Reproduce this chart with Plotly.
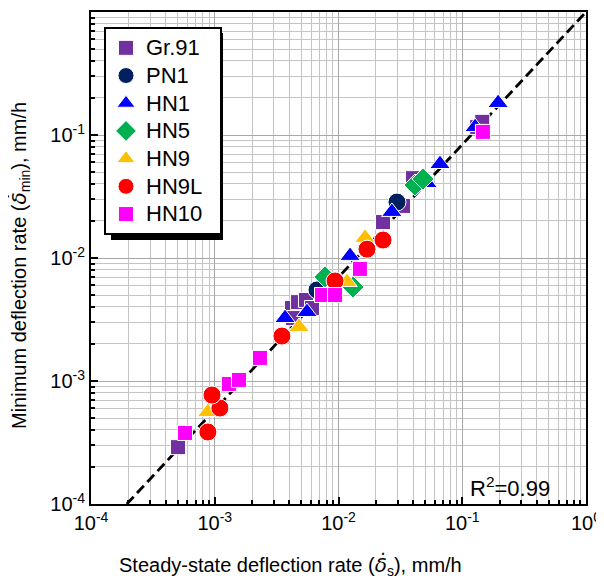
import numpy as np
import plotly.graph_objects as go

# ---- data (steady-state rate x, minimum rate y), mm/h ----
gr91_x = [5.05e-4, 4.21e-3, 4.71e-3, 5.46e-3, 6.11e-3, 4.28e-3, 2.29e-2, 3.32e-2, 4.00e-2, 0.132, 0.145]
gr91_y = [2.90e-4, 3.92e-3, 4.38e-3, 4.56e-3, 3.92e-3, 3.25e-3, 1.96e-2, 2.65e-2, 4.46e-2, 0.116, 0.128]

pn1_x = [6.70e-3, 2.97e-2]
pn1_y = [5.50e-3, 2.85e-2]

hn1_x = [3.70e-3, 5.56e-3, 1.24e-2, 2.70e-2, 5.19e-2, 6.61e-2, 0.127, 0.195]
hn1_y = [3.25e-3, 3.64e-3, 1.04e-2, 2.37e-2, 4.07e-2, 5.81e-2, 0.116, 0.182]

hn5_x = [7.78e-3, 1.31e-2, 4.15e-2, 4.82e-2]
hn5_y = [7.02e-3, 5.81e-3, 3.92e-2, 4.39e-2]

hn9_x = [8.8e-4, 4.80e-3, 1.17e-2, 1.64e-2]
hn9_y = [5.6e-4, 2.75e-3, 6.38e-3, 1.46e-2]

hn9l_x = [8.8e-4, 1.10e-3, 9.5e-4, 3.49e-3, 9.38e-3, 1.70e-2, 2.29e-2]
hn9l_y = [3.85e-4, 6.03e-4, 7.69e-4, 2.32e-3, 6.50e-3, 1.18e-2, 1.40e-2]

hn10_x = [5.75e-4, 1.30e-3, 1.57e-3, 2.32e-3, 7.36e-3, 9.38e-3, 1.49e-2, 0.147]
hn10_y = [3.78e-4, 9.46e-4, 1.02e-3, 1.54e-3, 5.00e-3, 5.00e-3, 8.15e-3, 0.106]

# power-law fit  y = A * x^N
FIT_A = 1.0
FIT_N = 1.078
R2_TEXT = "R<sup>2</sup>=0.99"

decades = [-4, -3, -2, -1, 0]
tick_labels = ["10<sup>-4</sup>", "10<sup>-3</sup>", "10<sup>-2</sup>", "10<sup>-1</sup>", "10<sup>0</sup>"]

series = [
    ("Gr.91", gr91_x, gr91_y, "square", "#7030A0", 15),
    ("PN1", pn1_x, pn1_y, "circle", "#002060", 18),
    ("HN1", hn1_x, hn1_y, "triangle-up", "#0000FF", 18),
    ("HN5", hn5_x, hn5_y, "diamond", "#00B050", 17),
    ("HN9", hn9_x, hn9_y, "triangle-up", "#FFC000", 18),
    ("HN9L", hn9l_x, hn9l_y, "circle", "#FF0000", 18),
    ("HN10", hn10_x, hn10_y, "square", "#FF00FF", 15),
]

FONT = "Arial, Liberation Sans, sans-serif"
DELTA = "<span style='font-family:DejaVu Sans'><i>δ̇</i></span>"
OFF = 8  # page body margin
W, H = 604 - OFF, 584 - OFF
L, R, T, B = 83, 18, 4, 80
PW, PH = W - L - R, H - T - B


def px(page_x):
    return (page_x - OFF - L) / PW


def py(page_y):
    return (T + PH - (page_y - OFF)) / PH


fig = go.Figure()

# fit line across the axis range
y_lo, y_hi = 10.0 ** decades[0], 10.0 ** decades[-1]
x_fit = np.array([(y_lo / FIT_A) ** (1 / FIT_N), (y_hi / FIT_A) ** (1 / FIT_N)])
y_fit = FIT_A * x_fit ** FIT_N
fig.add_trace(go.Scatter(x=x_fit, y=y_fit, mode="lines", showlegend=False,
                         line=dict(color="black", width=2.8, dash="10px,5px"), hoverinfo="skip"))

for name, xs, ys, sym, col, sz in series:
    fig.add_trace(go.Scatter(x=xs, y=ys, mode="markers",
                             name=f"<span style='font-size:22px'>{name}&nbsp;&nbsp;</span>",
                             marker=dict(symbol=sym, color=col, size=sz,
                                         line=dict(color="white", width=1))))

minor_vals = [m * 10.0 ** d for d in decades[:-1] for m in range(2, 10)]
major_vals = [10.0 ** d for d in decades]

axis_common = dict(
    type="log",
    range=[decades[0], decades[-1]],
    tickvals=major_vals,
    ticktext=tick_labels,
    ticks="inside", ticklen=7, tickwidth=2, tickcolor="black",
    showgrid=True, gridcolor="#a8a8a8", gridwidth=1,
    showline=True, linecolor="black", linewidth=2, mirror=True,
    minor=dict(tickvals=minor_vals, ticks="inside", ticklen=4, tickwidth=1.5,
               tickcolor="black", showgrid=True, gridcolor="#c4c4c4", gridwidth=1),
    tickfont=dict(family=FONT, size=20, color="black"),
    zeroline=False,
    automargin=False,
)

fig.update_xaxes(**axis_common)
fig.update_yaxes(**axis_common)

# axis titles
fig.add_annotation(text=f"Steady-state deflection rate ({DELTA}<sub>s</sub>), mm/h",
                   xref="paper", yref="paper", x=px(290), y=py(565), showarrow=False,
                   xanchor="center", yanchor="middle",
                   font=dict(family=FONT, size=20, color="black"))
fig.add_annotation(text=f"Minimum deflection rate ({DELTA}<sub>min</sub>), mm/h",
                   xref="paper", yref="paper", x=px(19), y=py(266), showarrow=False,
                   xanchor="center", yanchor="middle", textangle=-90,
                   font=dict(family=FONT, size=20, color="black"))

# legend drop shadow
fig.add_shape(type="rect", xref="paper", yref="paper",
              x0=px(111), x1=px(223), y0=py(240), y1=py(33),
              fillcolor="black", line=dict(width=0), layer="above")

fig.add_annotation(text=R2_TEXT, xref="paper", yref="paper",
                   x=px(510), y=py(487), showarrow=False,
                   xanchor="center", yanchor="middle",
                   font=dict(family=FONT, size=22, color="black"))

fig.update_layout(
    width=W, height=H,
    margin=dict(l=L, r=R, t=T, b=B, autoexpand=False),
    paper_bgcolor="white", plot_bgcolor="white",
    legend=dict(x=px(104), y=py(27), xanchor="left", yanchor="top",
                bgcolor="white", bordercolor="black", borderwidth=2,
                font=dict(family=FONT, size=19, color="black"),
                tracegroupgap=0, itemwidth=30),
    font=dict(family=FONT),
)

fig.write_html("out.html")
